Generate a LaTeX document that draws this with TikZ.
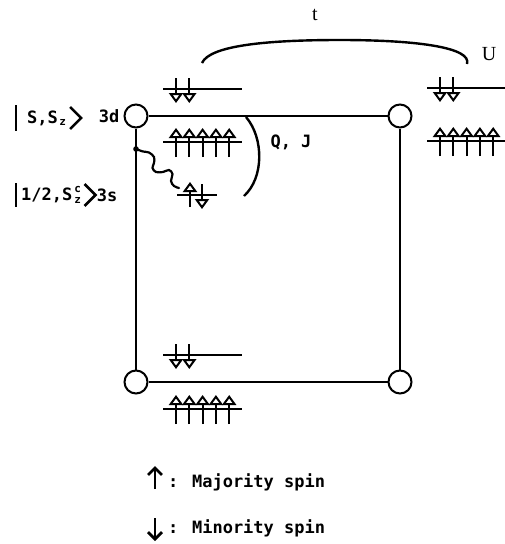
\documentclass[tikz,border=0pt]{standalone}
\usepackage{fontspec}
\setmainfont{DejaVu Sans Mono}
\newfontfamily\serfont{Liberation Serif}
\usetikzlibrary{arrows.meta,positioning}

% spin arrows on a level
\tikzset{
  site/.style={circle, draw, line width=2pt, minimum size=23pt, inner sep=0pt, fill=white},
  bond/.style={line width=2.4pt},
  level/.style={line width=2.6pt},
  spinup/.style={-{Triangle[open,width=14pt,length=10pt,line width=2pt]}, line width=2.2pt},
  spindown/.style={-{Triangle[open,width=14pt,length=10pt,line width=2pt]}, line width=2.2pt},
  legarrow/.style={-{Straight Barb[width=14pt,length=7pt,line width=2.8pt]}, line width=2.8pt},
  wave/.style={line width=2.2pt, line cap=round},
  chev/.style={line width=2.6pt, line join=miter},
  txt/.style={font=\bfseries\fontsize{17}{20}\selectfont, inner sep=0pt},
  small/.style={font=\bfseries\fontsize{11}{11}\selectfont, inner sep=0pt},
}
\newcommand{\majority}[2]{%
  \draw[level] (#1-13,#2) -- (#1+66,#2);
  \foreach \k in {0,...,4} \draw[spinup] (#1+\k*13.3,#2+15) -- (#1+\k*13.3,#2-14);
}
\newcommand{\minority}[2]{%
  \draw[level] (#1-13,#2) -- (#1+66,#2);
  \foreach \k in {0,1} \draw[spindown] (#1+\k*13.3,#2-11) -- (#1+\k*13.3,#2+14);
}

\begin{document}
\begin{tikzpicture}[x=1pt, y=-1pt]
  \useasboundingbox (0,0) rectangle (505,544);

  % levels
  \minority{176}{89}
  \majority{176}{142}
  \minority{440}{88}
  \majority{440}{141}
  \minority{176}{355}
  \majority{176}{409}

  % 3s level
  \draw[level] (177,195) -- (217,195);
  \draw[spinup] (190,207) -- (190,182);
  \draw[spindown] (202,184) -- (202,209);

  % sites and bonds
  \node[site] (tl) at (136,116) {};
  \node[site] (tr) at (400,116) {};
  \node[site] (bl) at (136,382) {};
  \node[site] (br) at (400,382) {};
  \draw[bond] (tl) -- (tr);
  \draw[bond] (tl) -- (bl);
  \draw[bond] (tr) -- (br);
  \draw[bond] (bl) -- (br);

  % coupling of 3d and 3s
  \coordinate (wstart) at (136,149);
  \coordinate (wend) at (179,188);
  \fill (wstart) circle (2.8pt);
  \draw[wave] plot[smooth, tension=0.6] coordinates {(136,149) (143,151.5) (149,152.5)
    (154,157) (154,163) (152.5,168) (156,172) (163,172) (169,170) (172.5,174)
    (171,181) (174,186) (179,188)};

  % Q, J bracket
  \coordinate (qtop) at (246,117);
  \coordinate (qbot) at (244,196);
  \draw[line width=2.4pt] (qtop) .. controls (264,138) and (264,178) .. (qbot);
  \node[txt] (qj) at (291,142) {Q, J};

  % hopping t
  \coordinate (ta) at (202,63);
  \coordinate (tm) at (340,40);
  \coordinate (tb) at (467,64);
  \draw[line width=2.4pt] (ta) .. controls (210,45) and (270,40) .. (tm)
    .. controls (420,40) and (472,48) .. (tb);
  \node[font=\serfont\fontsize{20}{22}\selectfont] (t) at (315,15) {t};
  \node[font=\serfont\fontsize{20}{22}\selectfont] (u) at (489,54) {U};

  % state labels
  \node[txt, left=4pt of tl] (d3) {3d};
  \node[txt, anchor=west] (ketd) at (27,118) {S,S};
  \node[small, anchor=north west] (zd) at ([xshift=1pt,yshift=-1pt]ketd.east) {z};
  \draw[chev] ([xshift=-11pt,yshift=13pt]ketd.west) -- ([xshift=-11pt,yshift=-13pt]ketd.west);
  \draw[chev] ([xshift=12pt,yshift=11pt]ketd.east) -- ([xshift=23pt]ketd.east)
    -- ([xshift=12pt,yshift=-11pt]ketd.east);
  \node[txt, anchor=west] (kets) at (21,195) {1/2,S};
  \node[small, anchor=south west] (cs) at ([xshift=1.5pt,yshift=2pt]kets.east) {c};
  \node[small, anchor=north west] (zs) at ([xshift=1.5pt,yshift=-2pt]kets.east) {z};
  \draw[chev] ([xshift=-5pt,yshift=12pt]kets.west) -- ([xshift=-5pt,yshift=-12pt]kets.west);
  \draw[chev] ([xshift=12pt,yshift=11pt]kets.east) -- ([xshift=23pt]kets.east)
    -- ([xshift=12pt,yshift=-11pt]kets.east);
  \node[txt, right=24pt of kets] (s3) {3s};

  % legend
  \node[txt, anchor=west] (maj) at (168,482) {: Majority spin};
  \node[txt, anchor=west] (min) at (168,528) {: Minority spin};
  \coordinate (ua) at (155,489);
  \coordinate (ub) at (155,466);
  \coordinate (da) at (155,518);
  \coordinate (db) at (155,541);
  \draw[legarrow] (ua) -- (ub);
  \draw[legarrow] (da) -- (db);
\end{tikzpicture}
\end{document}
